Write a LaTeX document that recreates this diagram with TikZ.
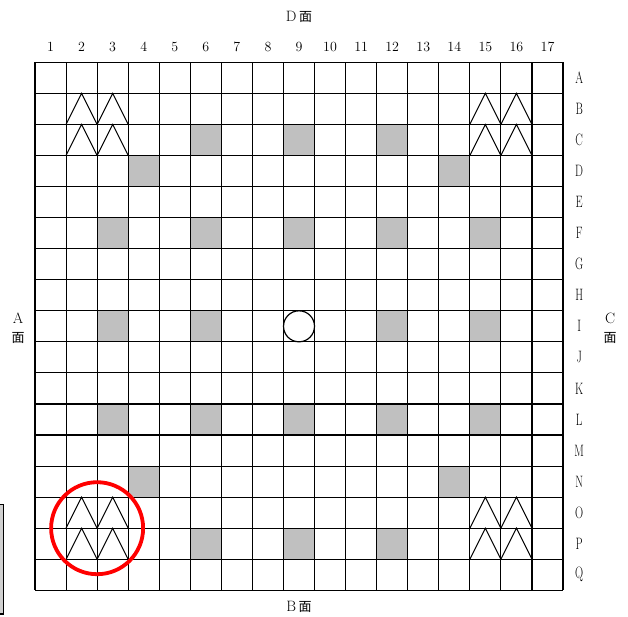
\documentclass[tikz,border=0pt]{standalone}
\usepackage{fontspec}
\newfontfamily\cjk{Noto Sans CJK SC}
\definecolor{cellgray}{RGB}{192,192,192}
\definecolor{boxgray}{RGB}{208,208,208}
\tikzset{
  gridline/.style={line width=1.1pt, black},
  greycell/.style={fill=cellgray},
  wedge/.style={line width=1pt, black, line join=miter},
  numlabel/.style={font=\fontsize{14}{14}\selectfont, inner sep=0pt},
  rowlabel/.style={font=\fontsize{16.5}{16.5}\selectfont, inner sep=0pt},
  sidelabel/.style={font=\fontsize{15}{15}\selectfont, inner sep=0pt},
  marker/.style={draw=red, line width=3.8pt},
}
\newcommand{\mian}{{\cjk\fontsize{13}{13}\selectfont 面}}
\newcommand{\narrow}[1]{\scalebox{0.68}[1]{#1}}
\begin{document}
\begin{tikzpicture}[x=1pt,y=-1pt]
\useasboundingbox (0,0) rectangle (628,617);
% side box at lower left
\draw[fill=boxgray, line width=1.3pt] (-3,504.5) rectangle (3.8,614);
% face labels
\node[sidelabel] (faceD) at (299,17) {D\,\mian};
\node[sidelabel] (faceB) at (299,607) {B\,\mian};
\node[sidelabel] (faceAl) at (18,318) {A};
\node[sidelabel] (faceAm) at (18,338) {\mian};
\node[sidelabel] (faceCl) at (610,318) {C};
\node[sidelabel] (faceCm) at (610,338) {\mian};
\begin{scope}[shift={(35,62.3)}, x=31.06pt, y=-31.06pt]
  % grey cells
  \foreach \i/\r in {6/3,9/3,12/3, 4/4,14/4, 3/6,6/6,9/6,12/6,15/6,
                     3/9,6/9,12/9,15/9, 3/12,6/12,9/12,12/12,15/12,
                     4/14,14/14, 6/16,9/16,12/16}
    \fill[greycell] (\i-1,\r-1) rectangle (\i,\r);
  % grid
  \foreach \k in {0,...,17} {
    \draw[gridline] (\k,0) -- (\k,17);
    \draw[gridline] (0,\k) -- (17,\k);
  }
  % wedges
  \foreach \i/\r in {2/2,3/2,2/3,3/3,15/2,16/2,15/3,16/3,
                     2/15,3/15,2/16,3/16,15/15,16/15,15/16,16/16}
    \draw[wedge] (\i-1,\r) -- (\i-0.5,\r-1) -- (\i,\r);
  % centre circle
  \node[draw, circle, line width=1.2pt, minimum size=31pt, inner sep=0pt] (centre) at (8.5,8.5) {};
  % red marker
  \node[marker, circle, minimum size=92pt, inner sep=0pt] (mark) at (2,15) {};
  % column numbers
  \foreach \i in {1,...,17}
    \node[numlabel] (col\i) at (\i-0.5,-0.49) {\i};
  % row letters
  \foreach \L [count=\r] in {A,B,C,D,E,F,G,H,I,J,K,L,M,N,O,P,Q}
    \node[rowlabel] (row\L) at (17.52,\r-0.5) {\narrow{\L}};
\end{scope}
\end{tikzpicture}
\end{document}
